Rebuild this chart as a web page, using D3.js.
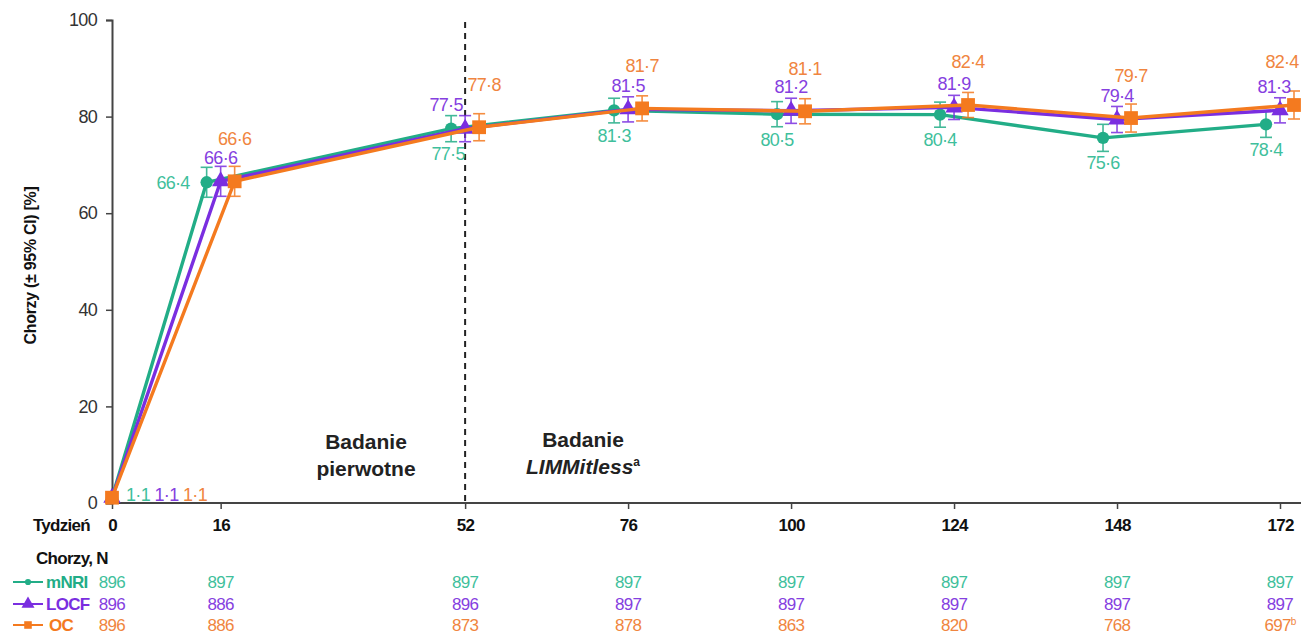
<!DOCTYPE html>
<html><head><meta charset="utf-8">
<script src="https://cdn.jsdelivr.net/npm/d3@7/dist/d3.min.js"></script>
<style>
html,body{margin:0;padding:0;background:#fff;}
svg{display:block;}
.narrow{font-family:"Liberation Sans Narrow","Arial Narrow","Liberation Sans",Arial,sans-serif;letter-spacing:-0.7px;}
.sans{font-family:"Liberation Sans",Arial,sans-serif;}
</style></head>
<body>
<svg id="chart" width="1309" height="636"></svg>
<script>
// ---------- data ----------
const weeks = [0, 16, 52, 76, 100, 124, 148, 172];
const yTicks = [0, 20, 40, 60, 80, 100];
const seriesNames = ["mNRI", "LOCF", "OC"];
const mNRI = [1.1, 66.4, 77.5, 81.3, 80.5, 80.4, 75.6, 78.4];
const mNRI_lo = [0.6, 63.3, 74.8, 78.7, 77.9, 77.8, 72.8, 75.7];
const mNRI_hi = [1.8, 69.5, 80.2, 83.8, 83.1, 83.0, 78.4, 81.1];
const LOCF = [1.1, 66.6, 77.5, 81.5, 81.2, 81.9, 79.4, 81.3];
const LOCF_lo = [0.6, 63.5, 74.8, 78.9, 78.6, 79.4, 76.7, 78.7];
const LOCF_hi = [1.8, 69.7, 80.2, 84.1, 83.8, 84.4, 82.1, 83.9];
const OC = [1.1, 66.6, 77.8, 81.7, 81.1, 82.4, 79.7, 82.4];
const OC_lo = [0.6, 63.5, 75.0, 79.1, 78.5, 79.8, 76.8, 79.5];
const OC_hi = [1.8, 69.7, 80.6, 84.3, 83.7, 85.0, 82.6, 85.3];
const nMNRI = ["896", "897", "897", "897", "897", "897", "897", "897"];
const nLOCF = ["896", "886", "896", "897", "897", "897", "897", "897"];
const nOC = ["896", "886", "873", "878", "863", "820", "768", "697"];
const nOCfootnote = ["", "", "", "", "", "", "", "b"];
const fmt = v => String(v.toFixed(1)).replace(".", "\u00B7");

// ---------- setup ----------
const svg = d3.select("#chart");
const x = d3.scaleLinear().domain([0, 172]).range([112, 1280]);
const y = d3.scaleLinear().domain([0, 100]).range([503, 20]);

const lineCol = {mNRI: "#22ad87", LOCF: "#7a2ee0", OC: "#f47a1f"};
const textCol = {mNRI: "#3fbf9c", LOCF: "#8540e0", OC: "#f08540"};
const offs = {mNRI: -14, LOCF: 0, OC: 14};

const series = [
  {name: "mNRI", v: mNRI, lo: mNRI_lo, hi: mNRI_hi, n: nMNRI},
  {name: "LOCF", v: LOCF, lo: LOCF_lo, hi: LOCF_hi, n: nLOCF},
  {name: "OC", v: OC, lo: OC_lo, hi: OC_hi, n: nOC, fn: nOCfootnote}
];
const px = (s, i) => x(weeks[i]) + (i === 0 ? 0 : offs[s.name]);

// ---------- axes ----------
const yAxis = d3.axisLeft(y).tickValues(yTicks).tickSize(6).tickPadding(9);
const gy = svg.append("g").attr("transform", `translate(${x(0)},0)`).call(yAxis);
gy.select(".domain").attr("stroke", "#444").attr("stroke-width", 2);
gy.selectAll(".tick line").attr("stroke", "#444").attr("stroke-width", 1.5);
gy.selectAll(".tick text").attr("class", "narrow").attr("font-size", 18).attr("fill", "#333");

const xAxis = d3.axisBottom(x).tickValues(weeks).tickSize(6).tickPadding(6).tickSizeOuter(0);
const gx = svg.append("g").attr("transform", `translate(0,${y(0)})`).call(xAxis);
gx.select(".domain").remove();
gx.selectAll(".tick line").attr("stroke", "#444").attr("stroke-width", 1.5);
gx.selectAll(".tick text").attr("class", "narrow").attr("font-size", 17)
  .attr("font-weight", "bold").attr("fill", "#111").attr("dy", "0.95em");
svg.append("line").attr("x1", x(0)).attr("x2", 1301).attr("y1", y(0)).attr("y2", y(0))
  .attr("stroke", "#444").attr("stroke-width", 2);

svg.append("text").attr("class", "narrow").attr("x", 90).attr("y", 531)
  .attr("text-anchor", "end").attr("font-size", 17).attr("font-weight", "bold").attr("fill", "#111")
  .text("Tydzień");

// y label
svg.append("text").attr("class", "sans")
  .attr("transform", `translate(36,${(y(0) + y(100)) / 2 + 4}) rotate(-90)`)
  .attr("text-anchor", "middle").attr("font-size", 16).attr("font-weight", "bold").attr("fill", "#111")
  .attr("letter-spacing", "-0.3px")
  .text("Chorzy (\u00B1 95% CI) [%]");

// dashed separator at week 52
svg.append("line").attr("x1", x(52)).attr("x2", x(52)).attr("y1", y(100) + 2).attr("y2", y(0))
  .attr("stroke", "#222").attr("stroke-width", 2).attr("stroke-dasharray", "6,5");

// phase labels
const phase = svg.append("g").attr("class", "sans").attr("font-size", 21).attr("font-weight", "bold")
  .attr("fill", "#222").attr("text-anchor", "middle");
phase.append("text").attr("x", 366).attr("y", 449).text("Badanie");
phase.append("text").attr("x", 366).attr("y", 476).text("pierwotne");
phase.append("text").attr("x", 583).attr("y", 447).text("Badanie");
const lim = phase.append("text").attr("x", 583).attr("y", 474);
lim.append("tspan").attr("font-style", "italic").text("LIMMitless");
lim.append("tspan").attr("font-size", 12).attr("dy", -8).text("a");

// ---------- series ----------
const line = d3.line().x(d => d[0]).y(d => d[1]);
const markerPath = {
  mNRI: d3.symbol(d3.symbolCircle, 120)(),
  LOCF: d3.symbol(d3.symbolTriangle, 130)(),
  OC: d3.symbol(d3.symbolSquare, 190)()
};

series.forEach(s => {
  const g = svg.append("g");
  const pts = s.v.map((v, i) => [px(s, i), y(v)]);
  g.append("path").attr("d", line(pts)).attr("fill", "none")
    .attr("stroke", lineCol[s.name]).attr("stroke-width", 3.4).attr("stroke-linejoin", "round");
  // error bars
  s.v.forEach((v, i) => {
    if (i === 0) return;
    const cx = px(s, i);
    const eg = g.append("g").attr("stroke", lineCol[s.name]).attr("stroke-width", 1.6).attr("opacity", 0.85);
    eg.append("line").attr("x1", cx).attr("x2", cx).attr("y1", y(s.lo[i])).attr("y2", y(s.hi[i]));
    eg.append("line").attr("x1", cx - 6).attr("x2", cx + 6).attr("y1", y(s.lo[i])).attr("y2", y(s.lo[i]));
    eg.append("line").attr("x1", cx - 6).attr("x2", cx + 6).attr("y1", y(s.hi[i])).attr("y2", y(s.hi[i]));
  });
  s.v.forEach((v, i) => {
    g.append("path").attr("d", markerPath[s.name])
      .attr("transform", `translate(${px(s, i)},${y(v)})`).attr("fill", lineCol[s.name]);
  });
});

// ---------- value labels ----------
const lab = svg.append("g").attr("class", "narrow").attr("font-size", 18).attr("text-anchor", "middle");
const last = weeks.length - 1;
series.forEach((s, si) => {
  s.v.forEach((v, i) => {
    let tx = px(s, i), ty = y(v), anchor = "middle";
    if (i === 0) { tx = x(0) + 26 + si * 28.5; ty = y(0) - 8; }
    else if (s.name === "mNRI") {
      if (i === 1) { tx -= 17; anchor = "end"; }
      else { ty += 25; if (i === 2) tx -= 3; }
    } else if (s.name === "LOCF") {
      ty -= 24; if (i === 2) tx -= 19; if (i === last) tx -= 6;
    } else {
      ty -= 43; if (i === 2) tx += 5; if (i === last) tx -= 12;
    }
    lab.append("text").attr("x", tx).attr("y", ty).attr("dy", "0.36em").attr("text-anchor", anchor)
      .attr("fill", textCol[s.name]).text(fmt(v));
  });
});

// ---------- N table ----------
svg.append("text").attr("class", "narrow").attr("x", 36).attr("y", 564).attr("font-size", 17)
  .attr("font-weight", "bold").attr("fill", "#111").text("Chorzy, N");
const rowY = [582, 604, 625];
series.forEach((s, si) => {
  const ry = rowY[si];
  svg.append("line").attr("x1", 13).attr("x2", 43).attr("y1", ry).attr("y2", ry)
    .attr("stroke", lineCol[s.name]).attr("stroke-width", 2);
  const sc = s.name === "mNRI" ? 0.5 : s.name === "LOCF" ? 0.75 : 0.55;
  svg.append("path").attr("d", markerPath[s.name]).attr("fill", lineCol[s.name])
    .attr("transform", `translate(28,${ry}) scale(${sc})`);
  svg.append("text").attr("class", "narrow").attr("x", s.name === "OC" ? 49 : 46).attr("y", ry).attr("dy", "0.36em")
    .attr("font-size", 17).attr("font-weight", "bold").attr("fill", lineCol[s.name]).text(s.name);
  s.n.forEach((n, i) => {
    const t = svg.append("text").attr("class", "narrow").attr("x", x(weeks[i])).attr("y", ry).attr("dy", "0.36em")
      .attr("text-anchor", "middle").attr("font-size", 17).attr("fill", textCol[s.name]);
    t.append("tspan").text(n);
    if (s.fn && s.fn[i]) t.append("tspan").attr("font-size", 10).attr("dy", -6).text(s.fn[i]);
  });
});
</script>
</body></html>
